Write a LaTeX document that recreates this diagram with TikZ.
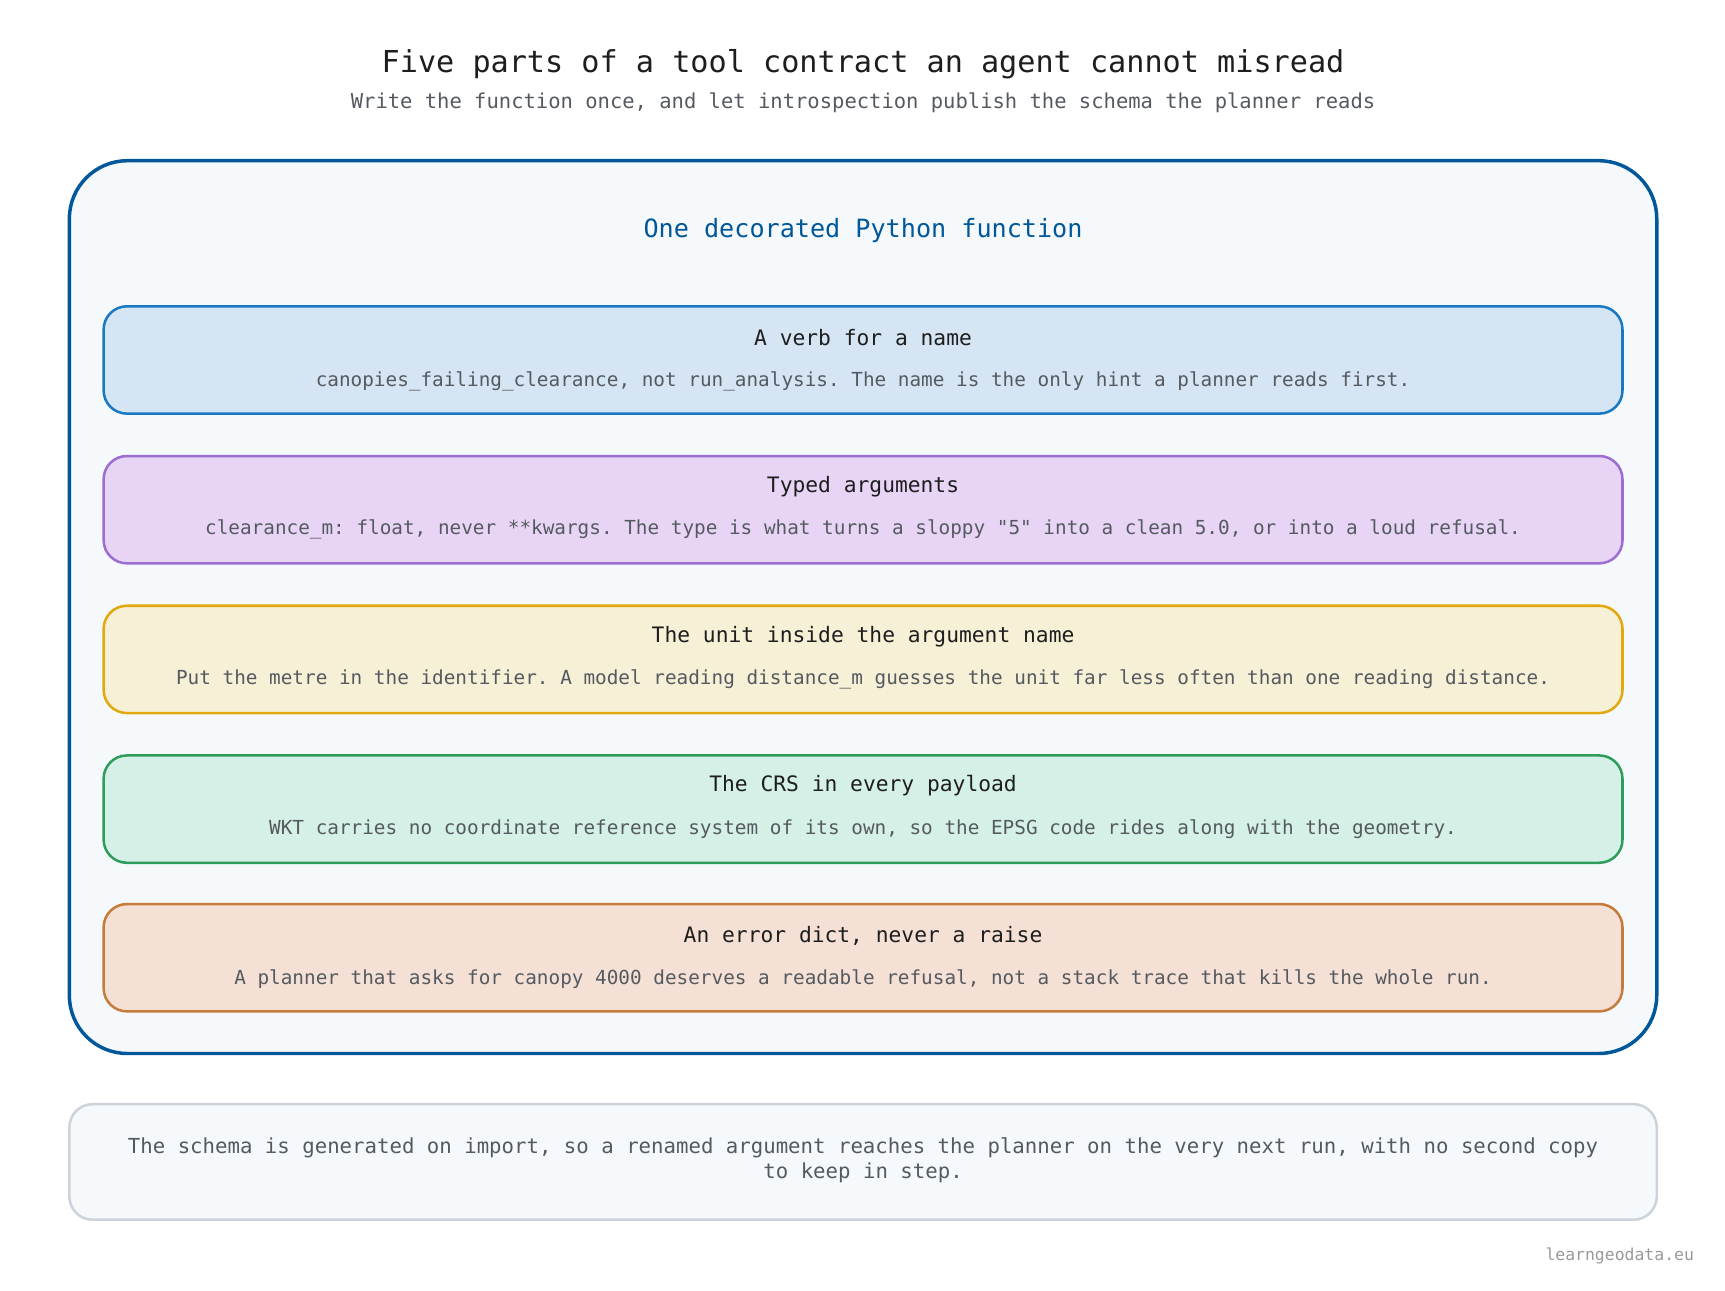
\documentclass[tikz,border=0pt]{standalone}
\usepackage{fontspec}
\setmonofont{DejaVu Sans Mono}
\renewcommand{\familydefault}{\ttdefault}
\definecolor{framec}{HTML}{00589A}
\definecolor{paper}{HTML}{F6F9FC}
\definecolor{bluef}{HTML}{D6E5F3}\definecolor{blued}{HTML}{1A78C2}
\definecolor{purpf}{HTML}{E8D5F6}\definecolor{purpd}{HTML}{9B6ECF}
\definecolor{yellf}{HTML}{F6F0D6}\definecolor{yelld}{HTML}{E2A90E}
\definecolor{greef}{HTML}{D5F0E7}\definecolor{greed}{HTML}{2E9C5A}
\definecolor{oranf}{HTML}{F5E0D5}\definecolor{orand}{HTML}{C57B3A}
\definecolor{footd}{HTML}{CCD3DA}
\definecolor{inkc}{HTML}{1E1E1E}
\definecolor{greyc}{HTML}{555A60}
\tikzset{
  part/.style={draw,line width=1.3pt,rounded corners=12pt,minimum width=27.6cm,minimum height=1.95cm},
  head/.style={font=\fontsize{11}{13}\selectfont,text=inkc},
  desc/.style={font=\fontsize{10}{12}\selectfont,text=greyc}
}
\begin{document}
\begin{tikzpicture}[x=0.02cm,y=-0.02cm]
    \useasboundingbox (0,0) rectangle (1567,1172);
    \node[font=\fontsize{15.6}{18}\selectfont,text=inkc] (title) at (784,58) {Five parts of a tool contract an agent cannot misread};
    \node[font=\fontsize{10.6}{13}\selectfont,text=greyc] (sub) at (784,93) {Write the function once, and let introspection publish the schema the planner reads};
    \draw[framec,fill=paper,line width=1.8pt,rounded corners=30pt] (63,146) rectangle (1505,957);
    \node[font=\fontsize{13}{16}\selectfont,text=framec] (fn) at (784,209) {One decorated Python function};
    \node[part,draw=blued,fill=bluef] (verb) at (784,327) {};
    \node[head] at (784,307) {A verb for a name};
    \node[desc] at (784,346) {canopies\_failing\_clearance, not run\_analysis. The name is the only hint a planner reads first.};
    \node[part,draw=purpd,fill=purpf] (typed) at (784,463) {};
    \node[head] at (784,442) {Typed arguments};
    \node[desc] at (784,481) {clearance\_m: float, never **kwargs. The type is what turns a sloppy "5" into a clean 5.0, or into a loud refusal.};
    \node[part,draw=yelld,fill=yellf] (unit) at (784,599) {};
    \node[head] at (784,578) {The unit inside the argument name};
    \node[desc] at (784,617) {Put the metre in the identifier. A model reading distance\_m guesses the unit far less often than one reading distance.};
    \node[part,draw=greed,fill=greef] (crs) at (784,735) {};
    \node[head] at (784,714) {The CRS in every payload};
    \node[desc] at (784,753) {WKT carries no coordinate reference system of its own, so the EPSG code rides along with the geometry.};
    \node[part,draw=orand,fill=oranf] (err) at (784,870) {};
    \node[head] at (784,850) {An error dict, never a raise};
    \node[desc] at (784,889) {A planner that asks for canopy 4000 deserves a readable refusal, not a stack trace that kills the whole run.};
    \draw[footd,fill=paper,line width=1.3pt,rounded corners=12pt] (63,1003) rectangle (1505,1108);
    \node[desc,font=\fontsize{10.7}{13}\selectfont,align=center] (note) at (784,1054) {The schema is generated on import, so a renamed argument reaches the planner on the very next run, with no second copy\\to keep in step.};
    \node[anchor=east,font=\fontsize{8.5}{10}\selectfont,text=gray!80] (mark) at (1545,1141) {learngeodata.eu};
  \end{tikzpicture}
\end{document}
